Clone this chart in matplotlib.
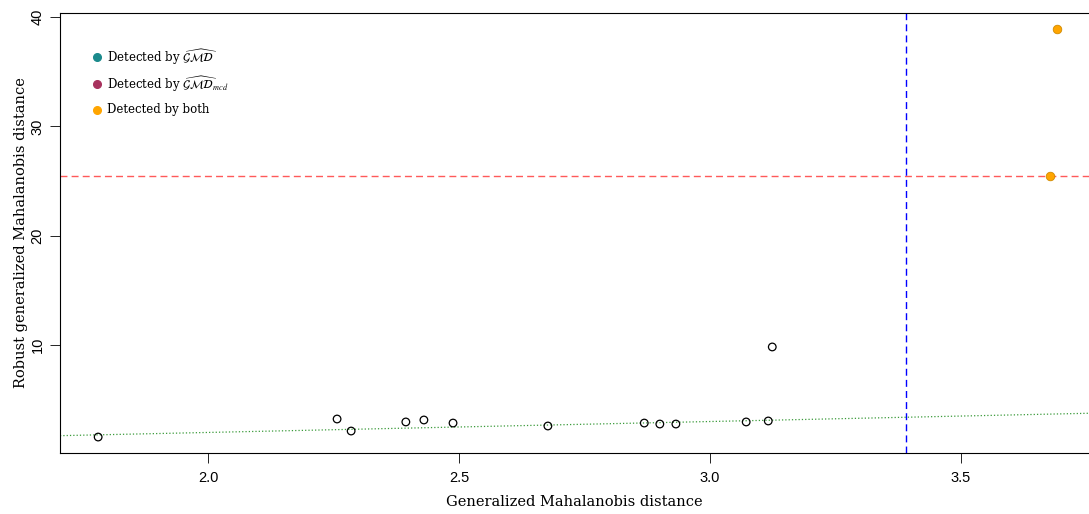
import numpy as np
import matplotlib.pyplot as plt

plt.rcParams['mathtext.fontset'] = 'stix'

# generalized vs robust generalized Mahalanobis distances
gmd = [1.781, 2.257, 2.285, 2.394, 2.430, 2.488, 2.677, 2.869, 2.900, 2.932,
       3.072, 3.116, 3.124]
rgmd = [1.58, 3.23, 2.13, 2.96, 3.14, 2.86, 2.59, 2.86, 2.77, 2.77,
        2.96, 3.05, 9.82]
# outliers flagged by both methods
both_x = [3.691, 3.677]
both_y = [38.9, 25.46]

cut_gmd = 3.39
cut_rgmd = 25.46

teal = '#1b8a8c'
maroon = '#a8325e'
orange = '#ffa500'

legend_colors = [teal, maroon, orange]
legend_labels = [r'Detected by $\widehat{\mathcal{GMD}}$',
                 r'Detected by $\widehat{\mathcal{GMD}}_{mcd}$',
                 'Detected by both']

fig = plt.figure(figsize=(10.89, 5.14), dpi=100)
ax = fig.add_axes([60 / 1089, 61 / 514, 1029 / 1089, 440 / 514])

ax.scatter(gmd, rgmd, s=30, facecolors='none', edgecolors='black', linewidths=0.9, zorder=3)
ax.scatter(both_x, both_y, s=38, color=orange, edgecolors='#d08a00', linewidths=0.6, zorder=3)

ax.axhline(cut_rgmd, color='#ff5a5a', ls=(0, (5, 3)), lw=1)
ax.axvline(cut_gmd, color='blue', ls=(0, (5, 3)), lw=1)
xx = np.array([1.705, 3.755])
ax.plot(xx, xx, color='#3a9a3a', ls=':', lw=0.9)

ax.set_xlim(1.705, 3.755)
ax.set_ylim(0.12, 40.37)
ax.set_xticks([2.0, 2.5, 3.0, 3.5])
ax.set_xticklabels(['2.0', '2.5', '3.0', '3.5'])
ax.set_yticks([10, 20, 30, 40])
ax.tick_params(direction='out', length=7, width=0.6, labelsize=10.5)
ax.tick_params(axis='x', pad=6)
ax.tick_params(axis='y', pad=4)
for lab in ax.get_xticklabels() + ax.get_yticklabels():
    lab.set_family('Liberation Sans')
plt.setp(ax.get_yticklabels(), rotation=90, va='center')
ax.spines['right'].set_visible(False)

ax.set_xlabel('Generalized Mahalanobis distance', family='DejaVu Serif', fontsize=10.5, labelpad=7.5)
ax.set_ylabel('Robust generalized Mahalanobis distance', family='DejaVu Serif', fontsize=10.5, labelpad=2)

# legend drawn by hand so the rows are evenly spaced
row_y = [0.90, 0.839, 0.78]
for y, c, lab in zip(row_y, legend_colors, legend_labels):
    ax.plot([0.036], [y], marker='o', color=c, markersize=5.5, transform=ax.transAxes)
    ax.text(0.046, y, lab, transform=ax.transAxes, va='center', ha='left',
            family='DejaVu Serif', fontsize=8.5)

fig.savefig('out.png', dpi=100)
